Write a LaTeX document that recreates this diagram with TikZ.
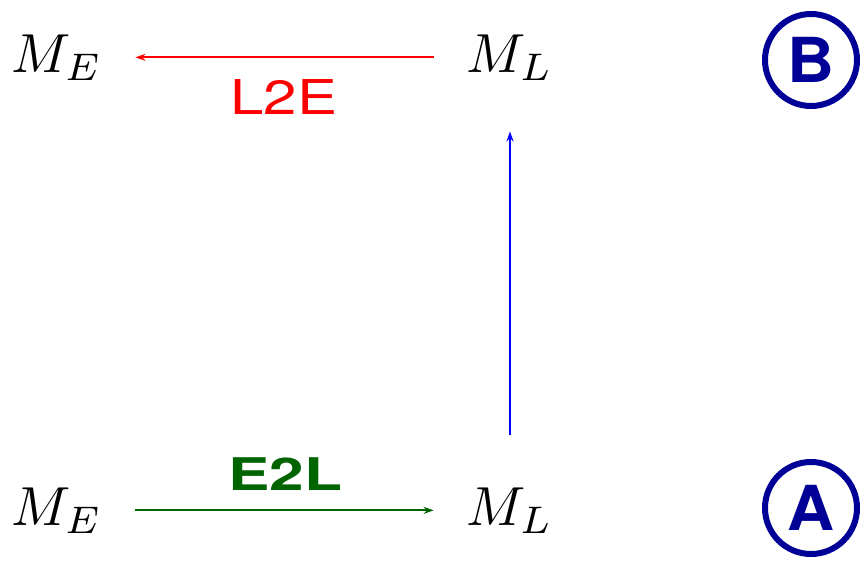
\documentclass[tikz,border=0pt]{standalone}
\usepackage{fontspec}
\setsansfont{TeX Gyre Heros}
\usetikzlibrary{arrows.meta}
\definecolor{navy}{RGB}{0,0,150}
\definecolor{dgreen}{RGB}{0,100,0}
\newcommand{\mybigmath}[1]{\scalebox{5.5}{$#1$}}
\begin{document}
\begin{tikzpicture}[x=1pt,y=-1pt,
  mnode/.style={anchor=base,inner xsep=33pt,inner ysep=0pt},
  arr/.style={line width=2pt,-{Stealth[length=10pt,width=7pt]}},
  lbl/.style={inner sep=0pt,font=\fontsize{48}{56}\selectfont\sffamily},
  badge/.style={circle,draw=navy,line width=6pt,minimum size=92pt,inner sep=0pt,text=navy,font=\fontsize{62}{70}\selectfont\sffamily\bfseries}]
\useasboundingbox (0,0) rectangle (861,565);
\node[mnode] (tE) at (57,72) {\mybigmath{M_E}};
\node[mnode] (tL) at (510,72) {\mybigmath{M_L}};
\node[mnode] (bE) at (57,525) {\mybigmath{M_E}};
\node[mnode] (bL) at (510,525) {\mybigmath{M_L}};
\draw[arr,red] (tL.west) -- (tE.east);
\draw[arr,dgreen] (bE.east) -- (bL.west);
\draw[arr,blue,shorten <=52pt,shorten >=51pt] (bL.north) -- (tL.south);
\node[lbl,text=red] (l2e) at (284,97) {\scalebox{1.25}[1]{L2E}};
\node[lbl,text=dgreen,font=\fontsize{45}{52}\selectfont\sffamily\bfseries] (e2l) at (285,474) {\scalebox{1.38}[1]{E2L}};
\node[badge] (B) at (811,60) {\scalebox{1.05}[1]{B}};
\node[badge] (A) at (811,508) {\scalebox{1.05}[1]{A}};
\end{tikzpicture}
\end{document}
